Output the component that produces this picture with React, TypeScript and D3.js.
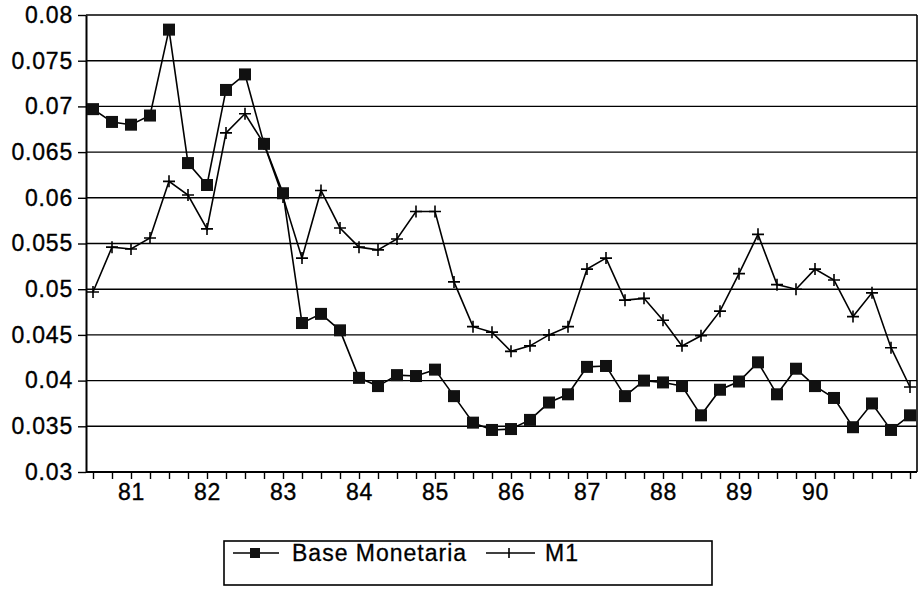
import React, { useRef, useEffect } from 'react';
import * as d3 from 'd3';

// Quarterly series, 1980Q3 - 1991Q2
const quarters = [
  '80Q3', '80Q4',
  '81Q1', '81Q2', '81Q3', '81Q4', '82Q1', '82Q2', '82Q3', '82Q4',
  '83Q1', '83Q2', '83Q3', '83Q4', '84Q1', '84Q2', '84Q3', '84Q4',
  '85Q1', '85Q2', '85Q3', '85Q4', '86Q1', '86Q2', '86Q3', '86Q4',
  '87Q1', '87Q2', '87Q3', '87Q4', '88Q1', '88Q2', '88Q3', '88Q4',
  '89Q1', '89Q2', '89Q3', '89Q4', '90Q1', '90Q2', '90Q3', '90Q4',
  '91Q1', '91Q2',
];

const baseMonetaria = [
  0.0697, 0.0683, 0.0680, 0.0690, 0.0784, 0.0638, 0.0614, 0.0718, 0.0735, 0.0659,
  0.0605, 0.0463, 0.0473, 0.0455, 0.0403, 0.0394, 0.0406, 0.0405, 0.0412, 0.0383,
  0.0354, 0.0346, 0.0347, 0.0357, 0.0376, 0.0385, 0.0415, 0.0416, 0.0383, 0.0400,
  0.0398, 0.0394, 0.0362, 0.0390, 0.0399, 0.0420, 0.0385, 0.0413, 0.0394, 0.0381,
  0.0349, 0.0375, 0.0346, 0.0362,
];

const m1 = [
  0.0497, 0.0546, 0.0544, 0.0556, 0.0618, 0.0603, 0.0566, 0.0671, 0.0692, 0.0659,
  0.0601, 0.0534, 0.0608, 0.0567, 0.0546, 0.0543, 0.0555, 0.0585, 0.0585, 0.0508,
  0.0459, 0.0453, 0.0432, 0.0438, 0.0450, 0.0459, 0.0522, 0.0534, 0.0488, 0.0490,
  0.0466, 0.0438, 0.0449, 0.0476, 0.0517, 0.0560, 0.0505, 0.0500, 0.0522, 0.0510,
  0.0470, 0.0496, 0.0436, 0.0393,
];

const yTicks = [0.03, 0.035, 0.04, 0.045, 0.05, 0.055, 0.06, 0.065, 0.07, 0.075, 0.08];
const yearLabels = ['81', '82', '83', '84', '85', '86', '87', '88', '89', '90'];

const FONT = '"Liberation Sans", Arial, sans-serif';

const App = () => {
  const ref = useRef<SVGSVGElement>(null);

  useEffect(() => {
    const svg = d3.select(ref.current);
    svg.selectAll('*').remove();

    const plot = { left: 86, right: 917, top: 15, bottom: 472 };

    const x = d3.scalePoint<string>()
      .domain(quarters)
      .range([93, 910]);

    const y = d3.scaleLinear()
      .domain([0.03, 0.08])
      .range([plot.bottom, plot.top]);

    // Gridlines
    svg.append('g')
      .selectAll('line')
      .data(yTicks)
      .join('line')
        .attr('x1', plot.left)
        .attr('x2', plot.right)
        .attr('y1', d => y(d))
        .attr('y2', d => y(d))
        .attr('stroke', '#000')
        .attr('stroke-width', 1.4);

    // Right border
    svg.append('line')
      .attr('x1', plot.right).attr('x2', plot.right)
      .attr('y1', plot.top).attr('y2', plot.bottom)
      .attr('stroke', '#000').attr('stroke-width', 1.6);

    // Y axis
    const yAxis = svg.append('g')
      .attr('transform', `translate(${plot.left},0)`)
      .call(d3.axisLeft(y).tickValues(yTicks).tickSize(8).tickSizeOuter(0)
        .tickFormat(d => String(+d)));
    yAxis.select('.domain').attr('stroke-width', 2);
    yAxis.selectAll('.tick line').attr('stroke-width', 1.4);
    yAxis.selectAll('.tick text')
      .attr('x', -13)
      .style('font-family', FONT)
      .style('font-size', '23px')
      .style('letter-spacing', '0.8px')
      .attr('fill', '#000')
      .attr('stroke', '#000')
      .attr('stroke-width', 0.35);

    // X axis
    const xAxis = svg.append('g')
      .attr('transform', `translate(0,${plot.bottom})`)
      .call(d3.axisBottom(x).tickSize(7).tickSizeOuter(0)
        .tickFormat(d => {
          const q = String(d);
          const yr = q.slice(0, 2);
          return q.endsWith('Q1') && yearLabels.includes(yr) ? yr : '';
        }));
    xAxis.select('.domain')
      .attr('d', `M${plot.left},0H${plot.right}`)
      .attr('stroke-width', 1.8);
    xAxis.selectAll('.tick line').attr('stroke-width', 1.4);
    xAxis.selectAll('.tick text')
      .attr('y', 12)
      .style('font-family', FONT)
      .style('font-size', '23px')
      .style('letter-spacing', '0.8px')
      .attr('fill', '#000')
      .attr('stroke', '#000')
      .attr('stroke-width', 0.35);

    const line = d3.line<number>()
      .x((_, i) => x(quarters[i]) as number)
      .y(d => y(d));

    // M1 line
    svg.append('path')
      .datum(m1)
      .attr('d', line)
      .attr('fill', 'none')
      .attr('stroke', '#000')
      .attr('stroke-width', 1.6);

    svg.append('g')
      .selectAll('path')
      .data(m1)
      .join('path')
        .attr('d', (d, i) => {
          const cx = x(quarters[i]) as number;
          const cy = y(d);
          return `M${cx - 6},${cy}H${cx + 6}M${cx},${cy - 6}V${cy + 6}`;
        })
        .attr('stroke', '#000')
        .attr('stroke-width', 1.6);

    // Base Monetaria line
    svg.append('path')
      .datum(baseMonetaria)
      .attr('d', line)
      .attr('fill', 'none')
      .attr('stroke', '#000')
      .attr('stroke-width', 1.6);

    svg.append('g')
      .selectAll('rect')
      .data(baseMonetaria)
      .join('rect')
        .attr('x', (_, i) => (x(quarters[i]) as number) - 6)
        .attr('y', d => y(d) - 6)
        .attr('width', 12)
        .attr('height', 12)
        .attr('fill', '#111');

    // Legend
    const legend = svg.append('g');
    legend.append('rect')
      .attr('x', 224).attr('y', 541)
      .attr('width', 488).attr('height', 44)
      .attr('fill', 'none')
      .attr('stroke', '#000')
      .attr('stroke-width', 1.6);

    legend.append('line')
      .attr('x1', 233).attr('x2', 279).attr('y1', 553).attr('y2', 553)
      .attr('stroke', '#000').attr('stroke-width', 1.6);
    legend.append('rect')
      .attr('x', 250).attr('y', 548).attr('width', 10).attr('height', 10)
      .attr('fill', '#111');
    legend.append('text')
      .attr('x', 292).attr('y', 561)
      .style('font-family', FONT)
      .style('font-size', '23px')
      .style('letter-spacing', '1px')
      .attr('stroke', '#000')
      .attr('stroke-width', 0.3)
      .text('Base Monetaria');

    legend.append('line')
      .attr('x1', 486).attr('x2', 535).attr('y1', 553).attr('y2', 553)
      .attr('stroke', '#000').attr('stroke-width', 1.6);
    legend.append('line')
      .attr('x1', 509).attr('x2', 509).attr('y1', 548).attr('y2', 558)
      .attr('stroke', '#000').attr('stroke-width', 1.6);
    legend.append('text')
      .attr('x', 545).attr('y', 561)
      .style('font-family', FONT)
      .style('font-size', '23px')
      .style('letter-spacing', '1px')
      .attr('stroke', '#000')
      .attr('stroke-width', 0.3)
      .text('M1');
  }, []);

  return (
    <svg
      ref={ref}
      width={924}
      height={591}
      style={{ position: 'absolute', left: 0, top: 0, background: '#fff' }}
    />
  );
};

export default App;
